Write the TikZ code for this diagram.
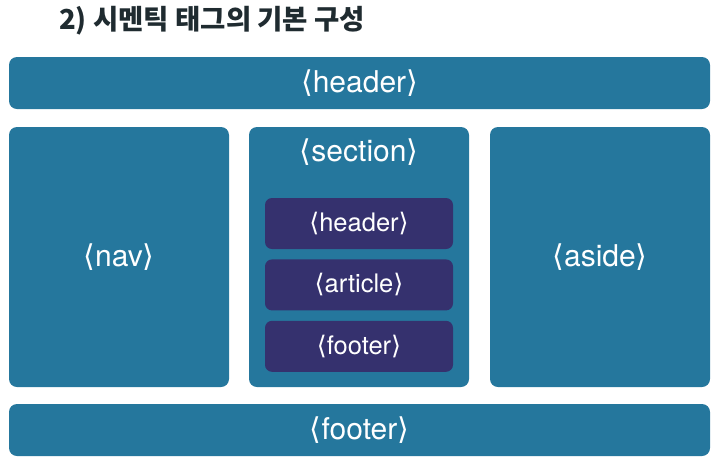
\documentclass[tikz,border=0pt]{standalone}
\usepackage{fontspec}
\setmainfont{TeX Gyre Heros}
\newfontfamily\krfont{Noto Sans CJK KR}
\newfontfamily\brfont{DejaVu Sans}
\usepackage{tikz}
\usetikzlibrary{positioning}
\usepackage{xcolor}
\definecolor{tagblue}{HTML}{25779D}
\definecolor{tagpurple}{HTML}{35316E}
\definecolor{titledark}{HTML}{1F2B30}
\newcommand{\tagtext}[1]{{\brfont\char"27E8}#1{\brfont\char"27E9}}

\begin{document}
\begin{tikzpicture}[x=1pt,y=-1pt]
        \tikzstyle{outerbox}=[fill=tagblue, rounded corners=8pt, text=white, inner sep=0pt, font=\fontsize{30}{34}\selectfont]
        \tikzstyle{innerbox}=[fill=tagpurple, rounded corners=7pt, text=white, inner sep=0pt, minimum width=188pt, minimum height=51pt, font=\fontsize{25.5}{30}\selectfont]
        \useasboundingbox (0,0) rectangle (718,467);

        % Title
        \node (title)[anchor=west, text=titledark, font=\krfont\bfseries\fontsize{27.5}{32}\selectfont, inner sep=0pt] at (59,21) {2) 시멘틱 태그의 기본 구성};

        % Top and bottom bars
        \node (header)[outerbox, minimum width=701pt, minimum height=52pt] at (359.5,83) {\tagtext{header}};
        \node (footer)[outerbox, minimum width=701pt, minimum height=52pt] at (359.5,430) {\tagtext{footer}};

        % Three columns
        \node (nav)[outerbox, minimum width=220pt, minimum height=260pt] at (119,257) {\tagtext{nav}};
        \node (section)[outerbox, minimum width=220pt, minimum height=260pt] at (359,257) {};
        \node (aside)[outerbox, minimum width=220pt, minimum height=260pt] at (600,257) {\tagtext{aside}};
        \node (sectionlabel)[text=white, font=\fontsize{30}{34}\selectfont] at (359,152) {\tagtext{section}};

        % Inside the section
        \node (inheader)[innerbox] at (359,223.5) {\tagtext{header}};
        \node (inarticle)[innerbox, below=10pt of inheader] {\tagtext{article}};
        \node (infooter)[innerbox, below=10pt of inarticle] {\tagtext{footer}};
    \end{tikzpicture}
\end{document}
